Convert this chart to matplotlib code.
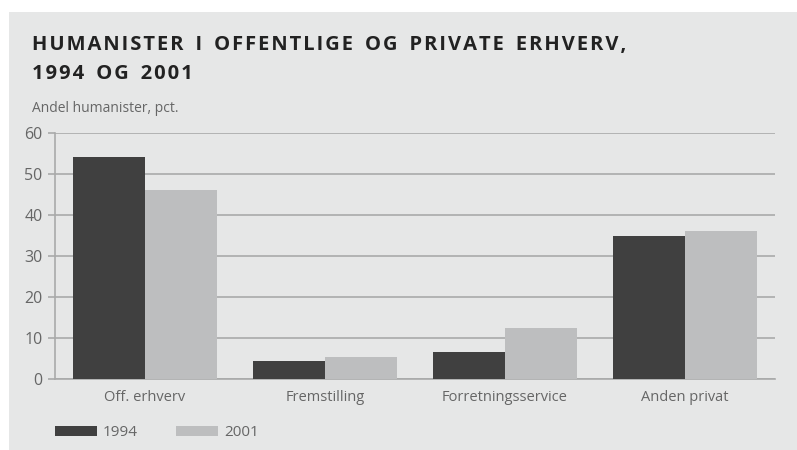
import numpy as np
import matplotlib.pyplot as plt
from matplotlib.patches import Rectangle

categories = ["Off. erhverv", "Fremstilling", "Forretningsservice", "Anden privat"]
vals_1994 = [54.1, 4.5, 6.6, 34.9]
vals_2001 = [46.1, 5.3, 12.4, 36.1]
years = ["1994", "2001"]

dark = "#404040"
light = "#bdbebf"
bg = "#e6e7e7"
grid_c = "#a9aaaa"
text_c = "#666666"

plt.rcParams['font.family'] = ['Open Sans', 'DejaVu Sans']

fig = plt.figure(figsize=(7.97, 4.5), dpi=100)
fig.patch.set_facecolor("white")
W, H = 797, 450

# grey panel behind everything
fig.patches.append(Rectangle((9 / W, 0), 1 - 9 / W, 1 - 12 / H, transform=fig.transFigure,
                             facecolor=bg, edgecolor="none", zorder=-10))

ax = fig.add_axes([55 / W, 1 - 379 / H, 720 / W, 246 / H])
ax.set_facecolor(bg)

x = np.arange(len(categories))
w = 0.4
b1 = ax.bar(x - w / 2, vals_1994, w, color=dark, zorder=3, label=years[0])
b2 = ax.bar(x + w / 2, vals_2001, w, color=light, zorder=3, label=years[1])

ax.set_xlim(-0.5, 3.5)
ax.set_ylim(0, 60)
ax.set_yticks(range(0, 61, 10))
ax.yaxis.grid(True, color=grid_c, linewidth=1.2, zorder=1)
ax.set_xticks(x)
ax.set_xticklabels(categories)
ax.tick_params(axis="x", length=0, pad=8, labelsize=10.5, labelcolor=text_c)
ax.tick_params(axis="y", length=5, width=1.2, color=grid_c, pad=4, labelsize=11.5, labelcolor=text_c)
for s in ["top", "right"]:
    ax.spines[s].set_visible(False)
for s in ["left", "bottom"]:
    ax.spines[s].set_color(grid_c)
    ax.spines[s].set_linewidth(1.2)

def spaced(s):
    # letter-spaced title: hair space between letters, wider gap between words
    return "\u2009\u2009\u2009".join("\u200a".join(word) for word in s.split(" "))

fig.text(32 / W, 1 - 50 / H, spaced("HUMANISTER I OFFENTLIGE OG PRIVATE ERHVERV,"),
         fontsize=14.5, fontweight="bold", color="#222222", va="baseline")
fig.text(32 / W, 1 - 79 / H, spaced("1994 OG 2001"),
         fontsize=14.5, fontweight="bold", color="#222222", va="baseline")
fig.text(32 / W, 1 - 108 / H, "Andel humanister, pct.", fontsize=10, color=text_c, va="center")

leg = fig.legend(handles=[b1, b2], loc="center left", bbox_to_anchor=(55 / W, 1 - 433 / H),
                 ncol=2, frameon=False, handlelength=2.75, handleheight=0.65,
                 handletextpad=0.4, columnspacing=2.5, fontsize=11,
                 borderpad=0, borderaxespad=0)
for t in leg.get_texts():
    t.set_color(text_c)

fig.savefig("out.png", dpi=100, facecolor="white")
